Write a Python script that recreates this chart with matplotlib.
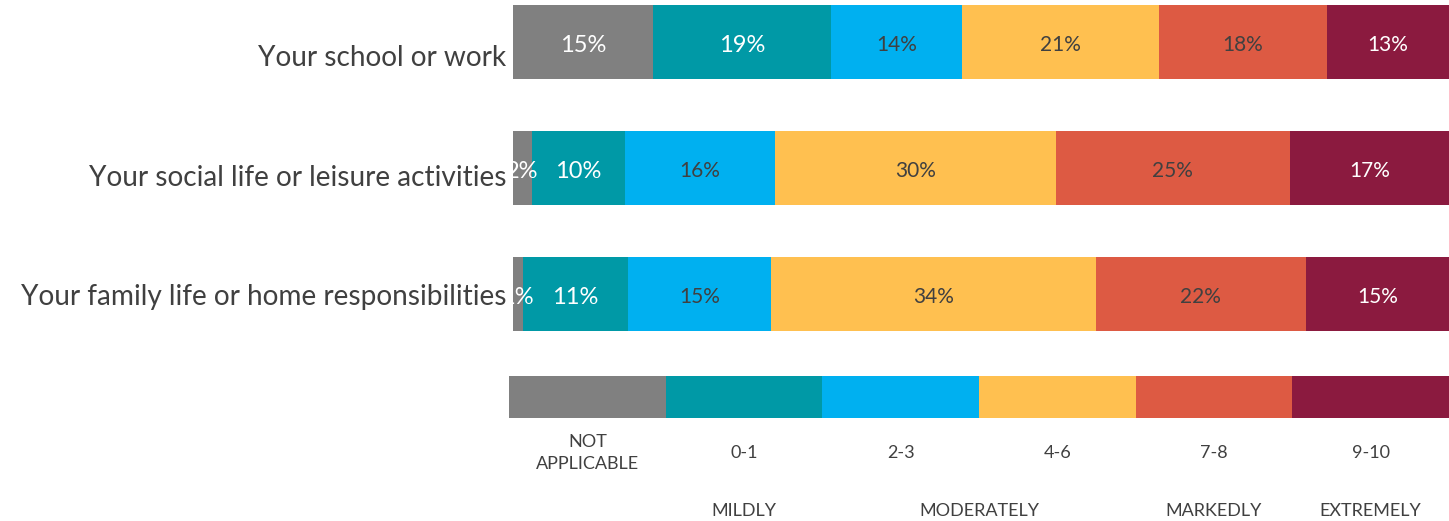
import matplotlib.pyplot as plt
import matplotlib.transforms as mtransforms
import numpy as np

plt.rcParams['font.family'] = ['Lato', 'DejaVu Sans']

W, H = 1449, 521

rows = ["Your school or work",
        "Your social life or leisure activities",
        "Your family life or home responsibilities"]
not_applicable = [15, 2, 1]
score_0_1 = [19, 10, 11]
score_2_3 = [14, 16, 15]
score_4_6 = [21, 30, 34]
score_7_8 = [18, 25, 22]
score_9_10 = [13, 17, 15]

legend_labels = ["NOT\nAPPLICABLE", "0-1", "2-3", "4-6", "7-8", "9-10"]
severity = ["MILDLY", "MODERATELY", "MARKEDLY", "EXTREMELY"]
severity_pos = [1.5, 3.0, 4.5, 5.5]

colors = ["#808080", "#0099A6", "#00B0F0", "#FFC050", "#DD5A43", "#8B1A3F"]
text_colors = ["white", "white", "#404040", "#404040", "#404040", "white"]
text_sizes = [17, 17, 15, 15, 15, 15]
dark = "#404040"
# the row labels in the original sit a little lower than the bars, not evenly
label_drop_px = [12, 6, 0]

fig = plt.figure(figsize=(W / 100, H / 100), dpi=100)

# main stacked bars
ax = fig.add_axes([513 / W, 1 - 336 / H, 936 / W, 336 / H])
series = np.array([not_applicable, score_0_1, score_2_3, score_4_6, score_7_8, score_9_10], dtype=float)
totals = series.sum(axis=0)
widths = series / totals * 100
y = np.arange(len(rows))
left = np.zeros(len(rows))
shift_pct = mtransforms.ScaledTranslation(0, -3 / 100, fig.dpi_scale_trans)
for k in range(len(series)):
    ax.barh(y, widths[k], left=left, height=74 / 126, color=colors[k], edgecolor="none")
    for i in range(len(rows)):
        ax.text(left[i] + widths[k][i] / 2, y[i], f"{int(series[k][i])}%",
                ha="center", va="center", color=text_colors[k], fontsize=text_sizes[k],
                transform=ax.transData + shift_pct)
    left += widths[k]
ax.set_xlim(0, 100)
ax.set_ylim(2 + 1 / 3, -1 / 3)
ax.set_yticks(y)
ax.set_yticklabels(rows, fontsize=20.2, color=dark)
ax.tick_params(axis="y", length=0, pad=5)
for lab, d in zip(ax.get_yticklabels(), label_drop_px):
    lab.set_transform(lab.get_transform()
                      + mtransforms.ScaledTranslation(0, -(d + 1) / 100, fig.dpi_scale_trans))
ax.set_xticks([])
for s in ax.spines.values():
    s.set_visible(False)

# legend bar
lax = fig.add_axes([509 / W, 1 - 418 / H, 940 / W, 42 / H])
pos = np.arange(len(legend_labels))
lax.bar(pos + 0.5, np.ones(len(pos)), width=1, color=colors, edgecolor="none")
lax.set_xlim(0, len(pos))
lax.set_ylim(0, 1)
lax.set_xticks([])
lax.set_yticks([])
for s in lax.spines.values():
    s.set_visible(False)
xt = lax.get_xaxis_transform()
for name, p in zip(legend_labels, pos + 0.5):
    lax.text(p, -(453 - 418) / 42, name, ha="center", va="center", fontsize=13,
             color=dark, linespacing=1.45, transform=xt)
for name, p in zip(severity, severity_pos):
    lax.text(p, -(511 - 418) / 42, name, ha="center", va="center", fontsize=13,
             color=dark, transform=xt)

fig.savefig("out.png", dpi=100)
